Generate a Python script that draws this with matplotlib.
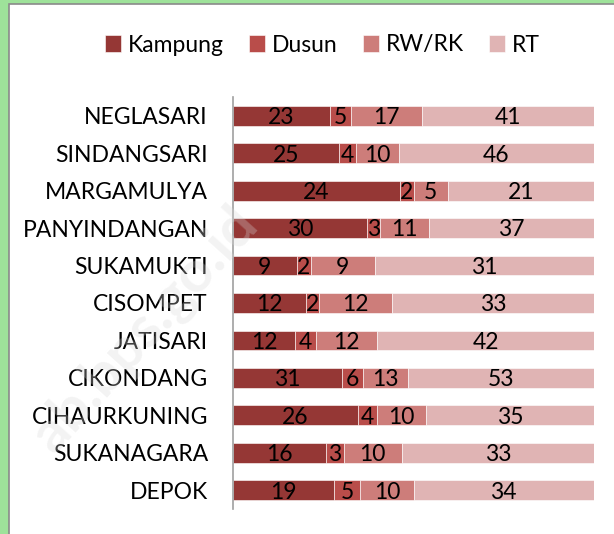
import matplotlib
matplotlib.use('Agg')
import matplotlib.pyplot as plt
import numpy as np
from matplotlib.patches import Rectangle

# data
desa = ['NEGLASARI', 'SINDANGSARI', 'MARGAMULYA', 'PANYINDANGAN', 'SUKAMUKTI',
        'CISOMPET', 'JATISARI', 'CIKONDANG', 'CIHAURKUNING', 'SUKANAGARA', 'DEPOK']
kampung = [23, 25, 24, 30, 9, 12, 12, 31, 26, 16, 19]
dusun = [5, 4, 2, 3, 2, 2, 4, 6, 4, 3, 5]
rwrk = [17, 10, 5, 11, 9, 12, 12, 13, 10, 10, 10]
rt = [41, 46, 21, 37, 31, 33, 42, 53, 35, 33, 34]

series = ['Kampung', 'Dusun', 'RW/RK', 'RT']
colors = ['#953735', '#B94D4A', '#CD7D7A', '#E0B4B4']

plt.rcParams['font.family'] = ['Lato', 'DejaVu Sans']

fig = plt.figure(figsize=(6.14, 5.34), dpi=100)

# background: green strip + grey frame
fig.patches.append(Rectangle((0, 0), 1, 1, transform=fig.transFigure,
                             facecolor='#9EE29A', edgecolor='none', zorder=-3))
fig.patches.append(Rectangle((9 / 614, -0.01), 1, 1 - 4 / 534 + 0.01, transform=fig.transFigure,
                             facecolor='white', edgecolor='#8A8A8A', linewidth=1.2, zorder=-2))

ax = fig.add_axes([233 / 614, 1 - 509 / 534, (594 - 233) / 614, (509 - 97) / 534])
ax.patch.set_alpha(0)

vals = np.array([kampung, dusun, rwrk, rt], dtype=float)
tot = vals.sum(axis=0)
pct = vals / tot
y = np.arange(len(desa))
left = np.zeros(len(desa))
for i in range(4):
    ax.barh(y, pct[i], left=left, height=0.53, color=colors[i],
            edgecolor='white', linewidth=0.4, label=series[i])
    for j in range(len(desa)):
        ax.text(left[j] + pct[i][j] / 2, y[j] + 0.05, str(int(vals[i][j])),
                ha='center', va='center', fontsize=16.5, color='black')
    left = left + pct[i]

ax.set_xlim(0, 1)
ax.set_ylim(len(desa) - 0.5, -0.5)
ax.set_yticks(y)
ax.set_yticklabels(desa, fontsize=16.5)
ax.tick_params(axis='y', length=0, pad=18)
ax.set_xticks([])
for s in ['top', 'right', 'bottom']:
    ax.spines[s].set_visible(False)
ax.spines['left'].set_color('#A0A0A0')
ax.spines['left'].set_linewidth(1.2)

fig.legend(loc='center', bbox_to_anchor=(0.525, 1 - 45 / 534), ncol=4, frameon=False,
           fontsize=16.5, handlelength=0.7, handleheight=0.7, handletextpad=0.3,
           columnspacing=1.1)

# faint watermark on top
fig.text(145 / 614, 1 - 330 / 534, 'ab.bps.go.id', rotation=48, fontsize=42,
         color='#D8D8D8', alpha=0.3, ha='center', va='center', fontweight='bold', zorder=10)

fig.savefig('out.png', dpi=100)
